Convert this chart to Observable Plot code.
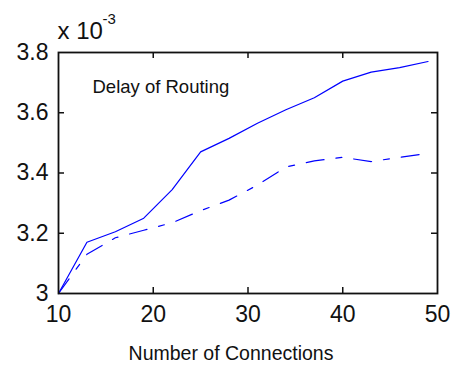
<!DOCTYPE html>
<html><head><meta charset="utf-8">
<script src="https://cdn.jsdelivr.net/npm/d3@7"></script>
<script src="https://cdn.jsdelivr.net/npm/@observablehq/plot@0.6"></script>
<style>body{margin:0;background:#fff;}</style>
</head><body><div id="chart"></div>
<script>
const connections = [10,13,16,19,22,25,28,31,34,37,40,43,46,49];
const solidDelay  = [3.0,3.17,3.205,3.25,3.345,3.47,3.515,3.565,3.61,3.65,3.705,3.735,3.75,3.77];
const dashedDelay = [3.0,3.13,3.185,3.21,3.235,3.275,3.31,3.36,3.42,3.44,3.452,3.438,3.452,3.465];
const xTicks = [10,20,30,40,50];
const xTickLabels = ["10","20","30","40","50"];
const yTicks = [3.0,3.2,3.4,3.6,3.8];
const yTickLabels = ["3","3.2","3.4","3.6","3.8"];
const innerXTicks = [20,30,40];
const innerYTicks = [3.2,3.4,3.6];
const titleText = "Delay of Routing";
const xLabel = "Number of Connections";
const scaleBase = "x 10";
const scaleExp = "-3";

const solid = connections.map((c,i)=>({x:c, y:solidDelay[i]}));
const dashed = connections.map((c,i)=>({x:c, y:dashedDelay[i]}));
const blue = "#0000ff";
const ink = "#111";
const W = 452, H = 365, mL = 58, mR = 15, mT = 52, mB = 72;
const plotW = W - mL - mR, plotH = H - mT - mB, tickLen = 6;
const tickStyle = {stroke: ink, strokeWidth: 1.5};

const chart = Plot.plot({
  width: W, height: H,
  marginLeft: mL, marginRight: mR, marginTop: mT, marginBottom: mB,
  style: {fontFamily: "'Liberation Sans', Arial, sans-serif", background: "#fff", color: ink, overflow: "visible"},
  x: {domain: [10, 50]},
  y: {domain: [3.0, 3.8]},
  marks: [
    Plot.line(solid, {x: "x", y: "y", stroke: blue, strokeWidth: 1.2}),
    Plot.line(dashed, {x: "x", y: "y", stroke: blue, strokeWidth: 1.2, strokeDasharray: "18,12,6,12"}),
    Plot.frame({stroke: ink, strokeWidth: 1.8}),
    Plot.axisX(xTicks, {anchor: "bottom", tickSize: 0, tickPadding: 12, fontSize: 23, label: null,
      tickFormat: d => xTickLabels[xTicks.indexOf(d)]}),
    Plot.axisY(yTicks, {anchor: "left", tickSize: 0, tickPadding: 10, fontSize: 23, label: null,
      tickFormat: d => yTickLabels[yTicks.indexOf(d)]}),
    Plot.tickX(innerXTicks, {x: d => d, insetTop: plotH - tickLen, ...tickStyle}),
    Plot.tickX(innerXTicks, {x: d => d, insetBottom: plotH - tickLen, ...tickStyle}),
    Plot.tickY(innerYTicks, {y: d => d, insetRight: plotW - tickLen, ...tickStyle}),
    Plot.tickY(innerYTicks, {y: d => d, insetLeft: plotW - tickLen, ...tickStyle}),
    Plot.text([titleText], {frameAnchor: "top-left", dx: 34, dy: 35, textAnchor: "start", lineAnchor: "middle", fontSize: 18.5, fill: ink}),
    Plot.text([scaleBase], {frameAnchor: "top-left", dx: -1, dy: -21, textAnchor: "start", lineAnchor: "middle", fontSize: 24, fill: ink}),
    Plot.text([scaleExp], {frameAnchor: "top-left", dx: 44, dy: -33, textAnchor: "start", lineAnchor: "middle", fontSize: 15, fill: ink}),
    Plot.text([xLabel], {frameAnchor: "bottom", dx: -17, dy: 60, textAnchor: "middle", lineAnchor: "middle", fontSize: 19.5, fill: ink})
  ]
});
document.getElementById("chart").appendChild(chart);
</script>
</body></html>
